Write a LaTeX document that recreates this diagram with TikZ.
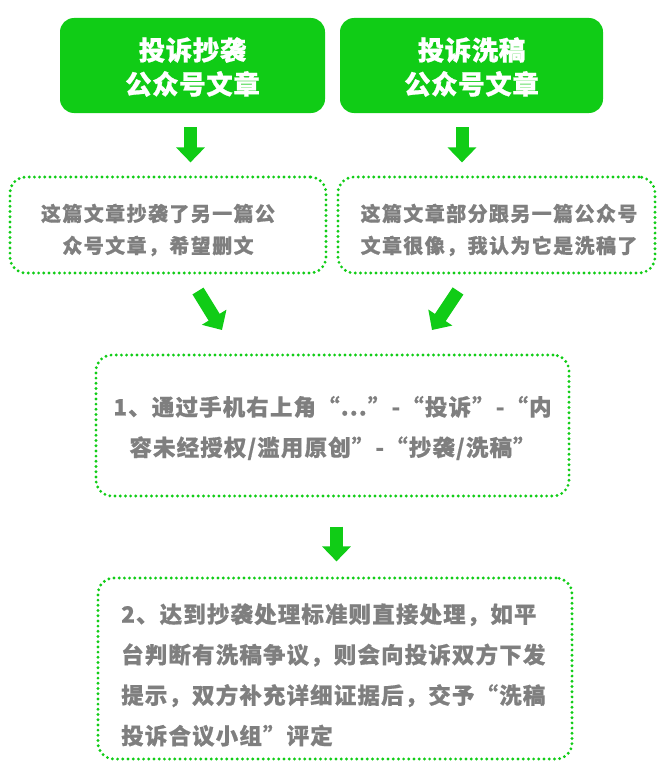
\documentclass[tikz,border=0pt]{standalone}
\usepackage{fontspec}
\setmainfont{Noto Sans CJK SC}
\newfontfamily\cjksp{Noto Sans CJK SC}[LetterSpace=7, BoldFeatures={FakeBold=0.6}]
\newfontfamily\cjkbig{Noto Sans CJK SC}[LetterSpace=5, BoldFeatures={FakeBold=0.6}]
\newfontfamily\cjktop{Noto Sans CJK SC}[LetterSpace=2, BoldFeatures={FakeBold=0.8}]
\usetikzlibrary{arrows.meta}
\definecolor{wxgreen}{RGB}{16,204,22}
\definecolor{txtgray}{RGB}{127,127,127}
\tikzset{
  greenbox/.style={fill=wxgreen, rounded corners=14pt, inner sep=0pt},
  dotbox/.style={draw=wxgreen, line width=3.2pt, dash pattern=on 0pt off 5.2pt, line cap=round, rounded corners=16pt, inner sep=0pt},
  toptext/.style={text=white, align=center, font=\cjktop\bfseries\fontsize{26.5}{34}\selectfont, inner sep=0pt},
  smalltext/.style={text=txtgray, align=center, font=\cjksp\bfseries\fontsize{20}{32}\selectfont, inner sep=0pt},
  bigtext/.style={text=txtgray, font=\cjkbig\bfseries\fontsize{22.5}{40.5}\selectfont, inner sep=0pt},
  bigarrow/.style={draw=wxgreen, line width=13pt, -{Triangle[width=28pt,length=15pt]}}
}
\begin{document}
\begin{tikzpicture}[x=1pt,y=-1pt]
\useasboundingbox (0,0) rectangle (666,768);
% top boxes
\node[greenbox, minimum width=265pt, minimum height=95pt] (b1) at (192.5,65.5) {};
\node[greenbox, minimum width=263pt, minimum height=95pt] (b2) at (471.5,65.5) {};
\node[toptext] (t1) at (192.5,67) {投诉抄袭\\公众号文章};
\node[toptext] (t2) at (471.5,67) {投诉洗稿\\公众号文章};
% second row
\node[dotbox, minimum width=316pt, minimum height=96pt] (b3) at (168,225) {};
\node[dotbox, minimum width=317pt, minimum height=96pt] (b4) at (496.5,225) {};
\node[smalltext] (t3) at (158,230) {这篇文章抄袭了另一篇公\\众号文章，希望删文};
\node[smalltext] (t4) at (499,230) {这篇文章部分跟另一篇公众号\\文章很像，我认为它是洗稿了};
% third
\node[dotbox, minimum width=473pt, minimum height=141pt] (b5) at (332.5,425.5) {};
\node[bigtext, align=center] (t5) at (332.5,428) {1、通过手机右上角“...”-“投诉”-“内\\容未经授权/滥用原创”-“抄袭/洗稿”};
% fourth
\node[dotbox, minimum width=474pt, minimum height=181pt] (b6) at (335,668.5) {};
\node[bigtext, align=left, anchor=west] (t6) at (121,675) {2、达到抄袭处理标准则直接处理，如平\\台判断有洗稿争议，则会向投诉双方下发\\提示，双方补充详细证据后，交予“洗稿\\投诉合议小组”评定};
% arrows
\draw[bigarrow, shorten <=14pt, shorten >=13pt] (b1.south -| 190.5,0) -- (b3.north -| 190.5,0);
\draw[bigarrow, shorten <=14pt, shorten >=13pt] (b2.south -| 462,0) -- (b4.north -| 462,0);
\coordinate (d1s) at (198,291);
\coordinate (d1e) at (222,330);
\coordinate (d2s) at (458,291);
\coordinate (d2e) at (432,330);
\draw[bigarrow] (d1s) -- (d1e);
\draw[bigarrow] (d2s) -- (d2e);
\draw[bigarrow, shorten <=29pt, shorten >=15pt] (b5.south -| 336.5,0) -- (b6.north -| 336.5,0);
\end{tikzpicture}
\end{document}
